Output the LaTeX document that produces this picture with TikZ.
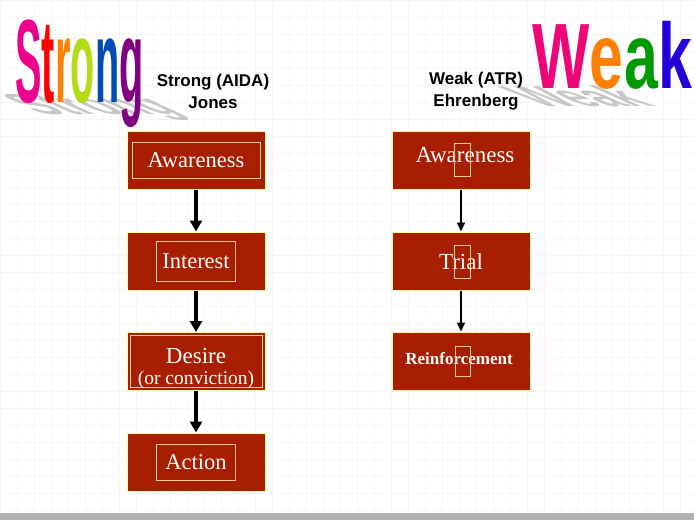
\documentclass[tikz,border=0pt]{standalone}
\usepackage{fontspec}
\setmainfont{Liberation Serif}
\newfontfamily\arial{Liberation Sans}
\usetikzlibrary{arrows.meta}
\begin{document}
\begin{tikzpicture}[x=1pt,y=-1pt,
  box/.style={draw=yellow!40!white,line width=1pt,fill=boxred,minimum width=138pt,minimum height=58pt,inner sep=0pt},
  inner/.style={draw=orange!40!white,line width=0.8pt,text=white,font=\fontsize{22.5}{23}\selectfont,inner sep=3pt},
  thick arrow/.style={-{Triangle[width=12pt,length=11pt]},line width=3.2pt},
  thin arrow/.style={-{Triangle[width=8pt,length=9pt]},line width=1.7pt},
  head/.style={font=\arial\bfseries\fontsize{17}{22}\selectfont,align=center},
  big/.style={font=\arial\bfseries\fontsize{64}{64}\selectfont,inner sep=0pt,anchor=base west,xscale=0.62,yscale=1.85},
  bigw/.style={font=\arial\bfseries\fontsize{64}{64}\selectfont,inner sep=0pt,anchor=base west,xscale=0.95,yscale=1.45},
  shadow/.style={font=\arial\bfseries\fontsize{64}{64}\selectfont,inner sep=0pt,anchor=base west,text=gray!45,xslant=-2.2,yscale=0.45,xscale=0.7}]
\definecolor{boxred}{HTML}{A81E00}
\useasboundingbox (0,0) rectangle (694,520);
\fill[white] (0,0) rectangle (694,520);
\foreach \i in {0,17,...,694} \draw[gray!8] (\i,0) -- (\i,520);
\foreach \j in {0,17,...,520} \draw[gray!8] (0,\j) -- (694,\j);
\fill[gray!60] (0,513) rectangle (694,520);
% rainbow titles
\node[shadow] at (40,114) {Strong};
\node[big,text=magenta] (s1) at (15,102) {S};
\node[big,text=red,anchor=base west] (s2) at (s1.base east) {t};
\node[big,text=orange,anchor=base west] (s3) at (s2.base east) {r};
\node[big,text=yellow!70!green,anchor=base west] (s4) at (s3.base east) {o};
\node[big,text=teal!60!blue,anchor=base west] (s5) at (s4.base east) {n};
\node[big,text=violet,anchor=base west] (s6) at (s5.base east) {g};
\node[shadow] at (540,106) {Weak};
\node[bigw,text=magenta!80!red] (w1) at (532,88) {W};
\node[bigw,text=orange,anchor=base west] (w2) at (w1.base east) {e};
\node[bigw,text=green!60!black,anchor=base west] (w3) at (w2.base east) {a};
\node[bigw,text=blue!70!violet,anchor=base west] (w4) at (w3.base east) {k};
% headers
\node[head] (h1) at (213,91) {Strong (AIDA)\\Jones};
\node[head] (h2) at (476,91) {Weak (ATR)\\Ehrenberg};
% left column
\node[box] (a1) at (196,160) {};
\node[inner,minimum width=128pt,minimum height=36pt] at (a1) {Awareness};
\node[box] (a2) at (196,261) {};
\node[inner,minimum width=79pt,minimum height=40pt] at (a2) {Interest};
\node[box] (a3) at (196,361.5) {};
\node[draw=orange!40!white,line width=0.8pt,minimum width=132pt,minimum height=52pt] at (a3) {};
\node[text=white,font=\fontsize{23}{25}\selectfont,align=center] at (196,368) {Desire\\[-4pt]{\fontsize{19.5}{20}\selectfont(or conviction)}};
\node[box] (a4) at (196,462) {};
\node[inner,minimum width=79pt,minimum height=36pt] at (a4) {Action};
\draw[thick arrow] (a1.south) -- (a2.north);
\draw[thick arrow] (a2.south) -- (a3.north);
\draw[thick arrow] (a3.south) -- (a4.north);
% right column
\node[box] (b1) at (461,160) {};
\node[text=white,font=\fontsize{23}{24}\selectfont] at (465,155) {Awareness};
\draw[orange!40!white,line width=0.8pt] (454,143) rectangle (470,176);
\node[box] (b2) at (461,261) {};
\node[text=white,font=\fontsize{23}{24}\selectfont] at (461,262) {Trial};
\draw[orange!40!white,line width=0.8pt] (454,245) rectangle (470,278);
\node[box] (b3) at (461,361) {};
\node[text=white,font=\bfseries\fontsize{17}{19}\selectfont] at (459,359) {Reinforcement};
\draw[orange!40!white,line width=0.8pt] (455,346) rectangle (470,376);
\draw[thin arrow] (b1.south) -- (b2.north);
\draw[thin arrow] (b2.south) -- (b3.north);
\end{tikzpicture}
\end{document}
